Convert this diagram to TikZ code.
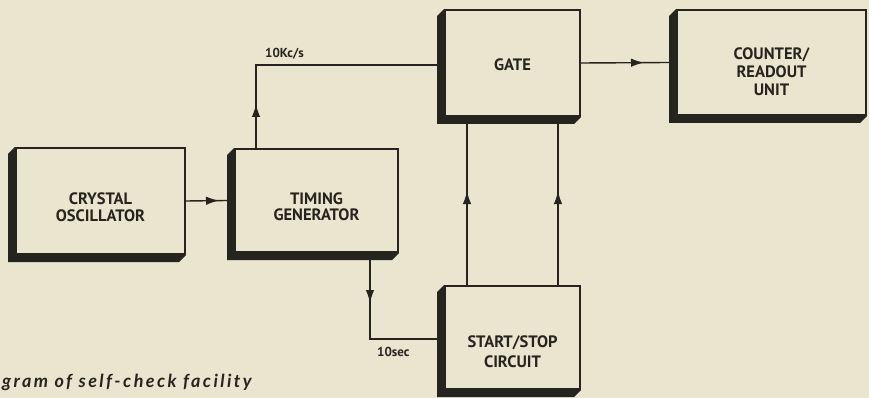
\documentclass[tikz,border=0pt]{standalone}
\usepackage{fontspec}
\newfontfamily\boxfont{PT Sans}
\newfontfamily\capfont{Lato}[LetterSpace=13.5]
\usetikzlibrary{arrows.meta,decorations.markings}
\definecolor{paper}{RGB}{233,229,207}
\definecolor{ink}{RGB}{38,36,30}
\newcommand\blkshadow[1]{\fill[ink] (#1.north west) -- ++(-7pt,-7pt) -- ([shift={(-7pt,-7pt)}]#1.south west) -- ([shift={(-7pt,-7pt)}]#1.south east) -- (#1.south east) -- (#1.south west) -- cycle;}
\begin{document}
\begin{tikzpicture}[x=1pt,y=-1pt,
  blk/.style={draw=ink, line width=2pt, fill=paper, inner sep=0pt, align=center,
    font=\boxfont\bfseries\fontsize{16.5}{17}\selectfont, text=ink},
  wire/.style={draw=ink, line width=1.4pt},
  tip/.style={decoration={markings, mark=at position #1 with {\arrow{Latex[length=13pt,width=8.5pt]}}}, postaction=decorate},
  lbl/.style={font=\boxfont\bfseries\fontsize{13}{15}\selectfont, text=ink, inner sep=0pt}]
\fill[paper] (0,0) rectangle (869,398);
\useasboundingbox (0,0) rectangle (869,398);

\node[blk, minimum width=169pt, minimum height=106pt, text height=40.5pt] (osc) at (100.5,201) {CRYSTAL\\OSCILLATOR};
\node[blk, minimum width=163pt, minimum height=103pt, text height=40.5pt,
  font=\boxfont\bfseries\fontsize{16.5}{16}\selectfont] (tim) at (316.5,200.5) {TIMING\\GENERATOR};
\node[blk, minimum width=135pt, minimum height=106pt, text height=15.5pt] (gate) at (512.5,63) {GATE};
\node[blk, minimum width=189pt, minimum height=105pt, text height=65.5pt,
  font=\boxfont\bfseries\fontsize{16.5}{18}\selectfont] (ctr) at (771.5,62.5) {COUNTER/\\READOUT\\UNIT};
\node[blk, minimum width=135pt, minimum height=103pt, text height=60.5pt,
  font=\boxfont\bfseries\fontsize{16.5}{20}\selectfont] (ss) at (512.5,337.5) {START/STOP\\CIRCUIT};

\blkshadow{osc}
\blkshadow{tim}
\blkshadow{gate}
\blkshadow{ctr}
\blkshadow{ss}

\draw[wire, tip=33pt] (osc.east) -- ([xshift=-7pt]tim.west);
\draw[wire, tip=44pt] ([xshift=22pt]tim.north west) |- ([xshift=-7pt,yshift=-2pt]gate.west);
\draw[wire, tip=63pt] (gate.east) -- ([xshift=-7pt]ctr.west);
\draw[wire, tip=94pt] ([xshift=23pt]ss.north west) -- ([xshift=23pt,yshift=-7pt]gate.south west);
\draw[wire, tip=94pt] ([xshift=-23pt]ss.north east) -- ([xshift=-23pt,yshift=-7pt]gate.south east);
\draw[wire, tip=43pt] ([xshift=-29pt,yshift=-7pt]tim.south east) |- ([xshift=-7pt,yshift=-1.5pt]ss.west);

\node[lbl, anchor=base west] (lk) at (265,58) {10Kc/s};
\node[lbl, anchor=base west] (ls) at (377,356) {10sec};
\node[font=\capfont\bfseries\itshape\fontsize{18}{20}\selectfont, text=ink, anchor=base west, inner sep=0pt] (cap) at (2,387) {gram of self-check facility};
\end{tikzpicture}
\end{document}
